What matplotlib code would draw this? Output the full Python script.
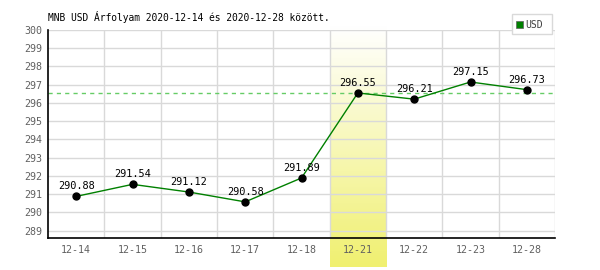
import numpy as np
import matplotlib
matplotlib.use('Agg')
import matplotlib.pyplot as plt
from matplotlib.patches import Rectangle

# Adatok
datumok = ['12-14', '12-15', '12-16', '12-17', '12-18', '12-21', '12-22', '12-23', '12-28']
arfolyam = [290.88, 291.54, 291.12, 290.58, 291.89, 296.55, 296.21, 297.15, 296.73]
kiemelt = 5            # 12-21 oszlop kiemelve
referencia = 296.55    # szaggatott vonal
cim = 'MNB USD Árfolyam 2020-12-14 és 2020-12-28 között.'

plt.rcParams['font.family'] = 'DejaVu Sans Mono'

fig = plt.figure(figsize=(6, 2.7), dpi=100)
ax = fig.add_axes([48/600, 1 - 238/270, (555-48)/600, (238-30)/270])

x = np.arange(len(datumok))
ax.set_xlim(-0.5, len(datumok) - 0.5)
ax.set_ylim(288.6, 300)

# Sárga színátmenetes sáv
grad = np.linspace(0, 1, 256).reshape(-1, 1)
cmap = matplotlib.colors.LinearSegmentedColormap.from_list('sarga', ['#ffffff', '#f0f070'])
ax.imshow(grad, extent=(kiemelt - 0.5, kiemelt + 0.5, 287.0, 300.2), origin='upper',
          cmap=cmap, aspect='auto', clip_on=False, zorder=0)

# Rács
for yv in range(289, 301):
    ax.axhline(yv, color='#d9d9d9', lw=1, zorder=1)
for xv in x[:-1] + 0.5:
    ax.axvline(xv, color='#d9d9d9', lw=1, zorder=1)
ax.axvline(len(datumok) - 0.5, color='#d9d9d9', lw=1, zorder=1)

ax.axhline(referencia, color='#66cc66', lw=1, ls=(0, (3, 3)), zorder=2)

ax.plot(x, arfolyam, color='#008000', lw=1, zorder=3)
ax.plot(x, arfolyam, 'o', color='black', ms=5, zorder=4)
for xi, yi in zip(x, arfolyam):
    ax.annotate(f'{yi:.2f}', (xi, yi), xytext=(0, 7.2), textcoords='offset points',
                ha='center', va='center', fontsize=7.4, color='black', zorder=5)

for s in ('top', 'right'):
    ax.spines[s].set_visible(False)
ax.spines['left'].set_linewidth(1.2)
ax.spines['bottom'].set_linewidth(1.2)
ax.set_xticks(x)
ax.set_xticklabels(datumok)
ax.set_yticks(range(289, 301))
ax.tick_params(length=0, labelsize=7.2, colors='#606060')
ax.tick_params(axis='x', pad=5)
ax.tick_params(axis='y', pad=4)

fig.text(48/600, 1 - 17/270, cim, fontsize=6.9, va='center', ha='left')

# Jelmagyarázat
fig.patches.append(Rectangle((512/600, 1 - 34/270), 40/600, 20/270, transform=fig.transFigure,
                             fc='white', ec='#d9d9d9', lw=1))
fig.patches.append(Rectangle((516/600, 1 - 28/270), 7/600, 7/270, transform=fig.transFigure,
                             fc='#008000', ec='#606060', lw=0.5))
fig.text(525/600, 1 - 24.5/270, 'USD', fontsize=7, va='center', ha='left', color='#404040')

fig.savefig('out.png', dpi=100)
